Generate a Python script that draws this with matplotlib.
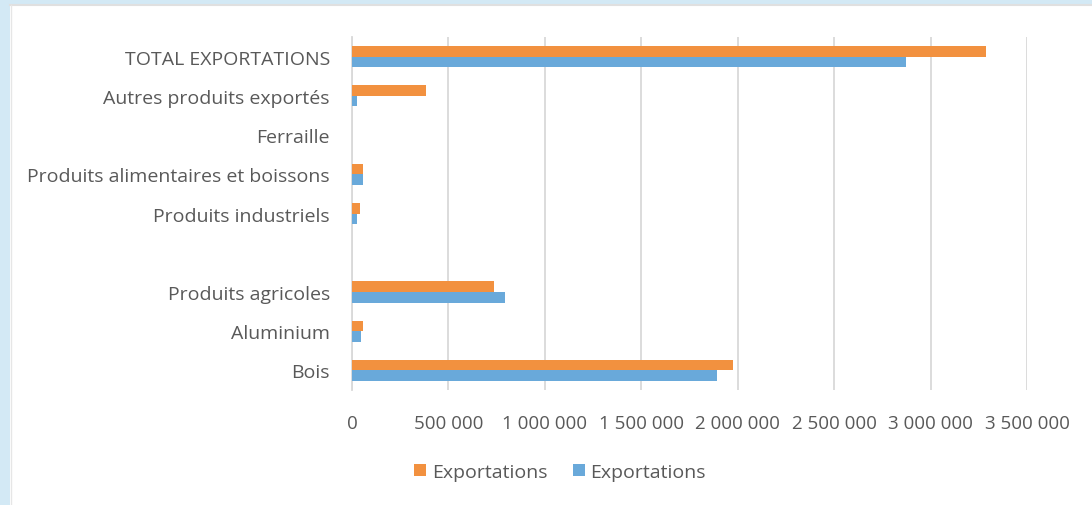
import matplotlib
matplotlib.use("Agg")
import matplotlib.pyplot as plt
from matplotlib.patches import Rectangle, Patch
from matplotlib.ticker import FuncFormatter
import numpy as np

plt.rcParams['font.family'] = ['Open Sans', 'DejaVu Sans']

categories = [
    "TOTAL EXPORTATIONS",
    "Autres produits exportés",
    "Ferraille",
    "Produits alimentaires et boissons",
    "Produits industriels",
    "",
    "Produits agricoles",
    "Aluminium",
    "Bois",
]
series_names = ["Exportations", "Exportations"]
export_orange = [3290000, 385000, 0, 55000, 40000, 0, 736000, 55000, 1978000]
export_blue = [2875000, 25000, 0, 55000, 25000, 0, 793000, 48000, 1890000]
x_ticks = [0, 500000, 1000000, 1500000, 2000000, 2500000, 3000000, 3500000]

ORANGE = "#F2913F"
BLUE = "#69A9DA"
TEXT = "#595959"
GRID = "#D9D9D9"

W, H = 1092, 506
fig = plt.figure(figsize=(W / 100, H / 100), dpi=100)
fig.patch.set_facecolor("#D3E9F5")

# white panel framed by the blue page border
fig.patches.append(Rectangle((10 / W, 0), 1, 1 - 6 / H, transform=fig.transFigure,
                             facecolor="white", edgecolor="none", zorder=-5))
fig.add_artist(plt.Line2D([10 / W, 1], [1 - 6 / H, 1 - 6 / H], transform=fig.transFigure,
                          color="#E0E0E0", lw=1.5, zorder=-4))
fig.add_artist(plt.Line2D([10.5 / W, 10.5 / W], [0, 1 - 6 / H], transform=fig.transFigure,
                          color="#E6E6E6", lw=1.0, zorder=-4))

left, right = 352 / W, 1027 / W
top, bottom = 1 - 38 / H, 1 - 391 / H
ax = fig.add_axes([left, bottom, right - left, top - bottom])
ax.set_facecolor("none")

y = np.arange(len(categories))
h = 0.27
ax.barh(y - h / 2, export_orange, height=h, color=ORANGE, zorder=3, label=series_names[0])
ax.barh(y + h / 2, export_blue, height=h, color=BLUE, zorder=3, label=series_names[1])

ax.set_ylim(len(categories) - 0.5, -0.5)
ax.set_xlim(0, 3500000)
ax.set_yticks(y)
ax.set_yticklabels(categories)
ax.set_xticks(x_ticks)
ax.xaxis.set_major_formatter(FuncFormatter(lambda v, p: f"{int(v):,}".replace(",", " ")))

ax.tick_params(axis="both", length=0, colors=TEXT, labelsize=13.5)
ax.tick_params(axis="y", pad=16, labelsize=14)
ax.tick_params(axis="x", pad=17)

ax.grid(axis="x", color=GRID, lw=1.3, zorder=0)
for s in ["top", "right", "bottom"]:
    ax.spines[s].set_visible(False)
ax.spines["left"].set_color(GRID)
ax.spines["left"].set_linewidth(1.3)

handles = [Patch(facecolor=ORANGE, edgecolor="none"), Patch(facecolor=BLUE, edgecolor="none")]
fig.legend(handles, series_names, loc="center", bbox_to_anchor=(560 / W, 1 - 473 / H),
           ncol=2, frameon=False, fontsize=14, labelcolor=TEXT,
           handlelength=0.62, handleheight=0.62, handletextpad=0.3, columnspacing=1.3)

fig.savefig("out.png", dpi=100)
